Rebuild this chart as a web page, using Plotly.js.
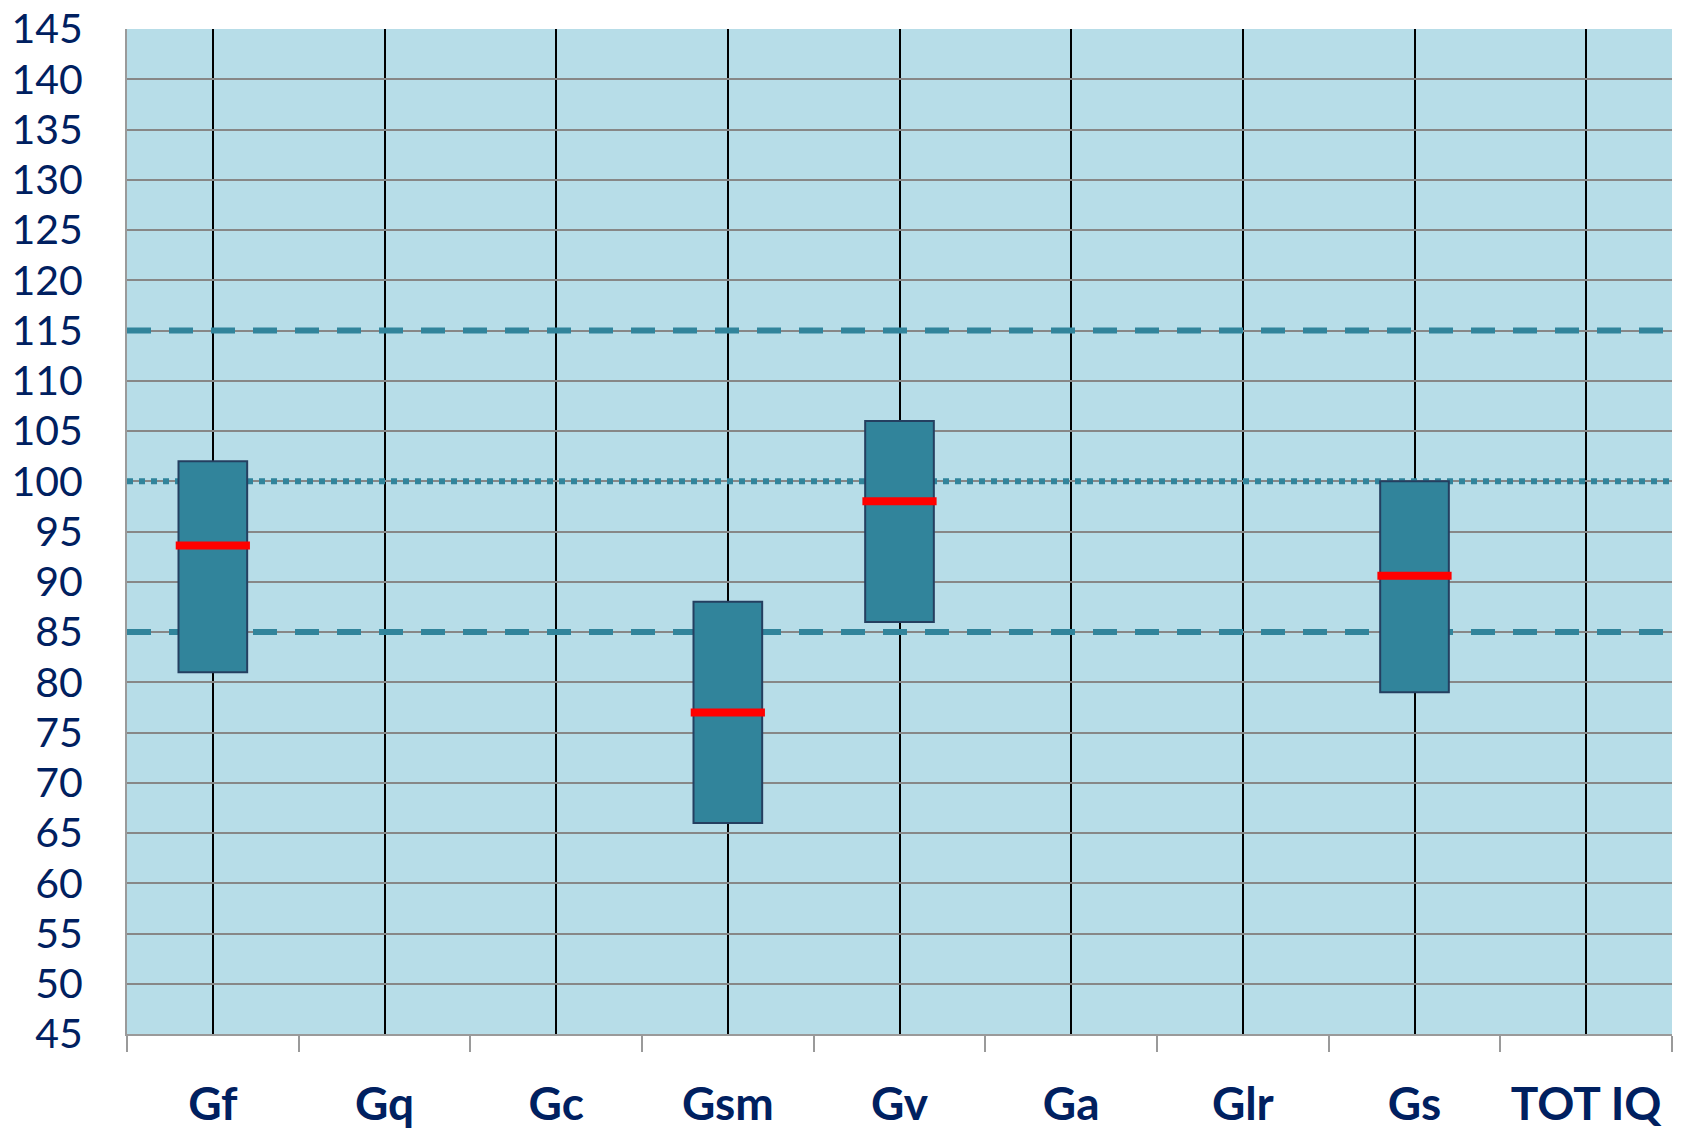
<!DOCTYPE html>
<html>
<head>
<meta charset="utf-8">
<script src="https://cdn.plot.ly/plotly-3.0.1.min.js"></script>
<style>
  html, body { margin: 0; padding: 0; background: #ffffff; }
  #chart { width: 1691px; height: 1145px; }
</style>
</head>
<body>
<div id="chart"></div>
<script>
// ---- Data ----
const categories = ['Gf', 'Gq', 'Gc', 'Gsm', 'Gv', 'Ga', 'Glr', 'Gs', 'TOT IQ'];
const lowValues = [81, null, null, 66, 86, null, null, 79, null];
const highValues = [102, null, null, 88, 106, null, null, 100, null];
const medianValues = [93.6, null, null, 77, 98, null, null, 90.6, null];
const refLevels = [115, 100, 85];
const refDashes = ['24px,18px', '6px,6px', '24px,18px'];
const yRange = [45, 145];
const yStep = 5;

// ---- Derived ----
const xPos = categories.map((_, i) => i);
const xRange = [-0.5, categories.length - 0.5];
const boxHeights = highValues.map((h, i) => (h == null || lowValues[i] == null) ? null : h - lowValues[i]);

const teal = '#31849B';
const navy = '#002060';

// reference lines on the main subplot (above gridlines, below the boxes)
const refTraces = refLevels.map((v, i) => ({
  type: 'scatter',
  mode: 'lines',
  x: xRange,
  y: [v, v],
  xaxis: 'x', yaxis: 'y',
  line: { color: teal, width: 6, dash: refDashes[i] },
  hoverinfo: 'skip',
  showlegend: false
}));

// boxes and medians on an overlaid subplot so they sit above the reference lines
const traces = refTraces.concat([
  {
    type: 'bar',
    x: xPos,
    y: boxHeights,
    base: lowValues,
    width: 0.4,
    xaxis: 'x2', yaxis: 'y2',
    marker: { color: teal, line: { color: '#243F60', width: 2 } },
    hoverinfo: 'skip',
    showlegend: false
  },
  {
    type: 'scatter',
    mode: 'markers',
    x: xPos,
    y: medianValues,
    xaxis: 'x2', yaxis: 'y2',
    marker: { symbol: 'line-ew', size: 53, color: '#FF0000', line: { color: '#FF0000', width: 8 } },
    hoverinfo: 'skip',
    showlegend: false
  }
]);

const layout = {
  width: 1691,
  height: 1145,
  margin: { l: 127, r: 19, t: 29, b: 111 },
  paper_bgcolor: '#ffffff',
  plot_bgcolor: '#B7DDE8',
  showlegend: false,
  xaxis: {
    range: xRange,
    tickmode: 'array',
    tickvals: xPos,
    ticktext: categories,
    showgrid: true,
    gridcolor: '#000000',
    gridwidth: 2,
    zeroline: false,
    showline: true,
    linecolor: '#9a9a9a',
    linewidth: 2,
    ticks: 'outside',
    ticklen: 29,
    tickcolor: 'rgba(0,0,0,0)',
    ticklabeloverflow: 'allow',
    tickfont: { family: 'Lato, Open Sans, sans-serif', size: 46, color: navy, weight: 'bold' },
    minor: {
      tick0: -0.5,
      dtick: 1,
      ticks: 'outside',
      ticklen: 16,
      tickwidth: 2,
      tickcolor: '#9a9a9a',
      showgrid: false
    },
    fixedrange: true
  },
  yaxis: {
    range: yRange,
    tick0: yRange[0],
    dtick: yStep,
    showgrid: true,
    gridcolor: '#878787',
    gridwidth: 2,
    zeroline: false,
    showline: true,
    linecolor: '#9a9a9a',
    linewidth: 2,
    ticks: 'outside',
    ticklen: 34,
    tickcolor: 'rgba(0,0,0,0)',
    ticklabeloverflow: 'allow',
    tickfont: { family: 'Lato, Open Sans, sans-serif', size: 41, color: navy },
    fixedrange: true
  },
  xaxis2: {
    overlaying: 'x',
    matches: 'x',
    range: xRange,
    visible: false,
    showgrid: false,
    fixedrange: true
  },
  yaxis2: {
    overlaying: 'y',
    matches: 'y',
    range: yRange,
    visible: false,
    showgrid: false,
    fixedrange: true
  }
};

Plotly.newPlot('chart', traces, layout, { staticPlot: true, displayModeBar: false });
</script>
</body>
</html>
